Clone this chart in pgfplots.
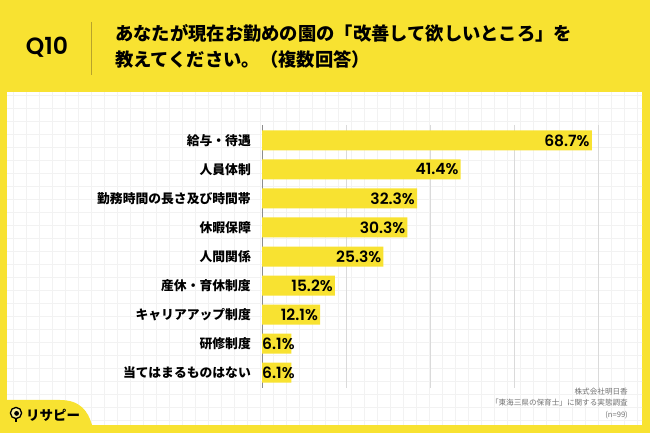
\documentclass[border=0pt]{standalone}
\usepackage{fontspec}
\usepackage{pgfplots}
\pgfplotsset{compat=1.18}
\usepackage{pgfplotstable}
\newfontfamily\jp{Noto Sans CJK JP}
\newfontfamily\pop{Poppins}[UprightFont={* SemiBold}]
\definecolor{yel}{HTML}{F8E231}
\definecolor{olivel}{HTML}{B8A32A}
\definecolor{gridc}{HTML}{DADADA}
\definecolor{paper}{HTML}{F2F2F2}

\pgfplotstableread{
y v
0 68.7
1 41.4
2 32.3
3 30.3
4 25.3
5 15.2
6 12.1
7 6.1
8 6.1
}\datatable

\pgfplotstableread{
y v
0 68.7
1 41.4
2 32.3
3 30.3
4 25.3
5 15.2
6 12.1
}\biglabels

\pgfplotstableread{
x y v
0 7 6.1
0 8 6.1
}\smalllabels

\begin{document}
\begin{tikzpicture}[x=1pt,y=1pt]
% background
\fill[yel] (0pt,0pt) rectangle (650pt,433pt);
\fill[white] (7pt,8pt) rectangle (642pt,341pt);
\begin{scope}
\clip (7pt,8pt) rectangle (642pt,341pt);
\draw[paper, line width=0.5pt, step=13pt] (0pt,0pt) grid (650pt,341pt);
\end{scope}
% logo tab
\fill[yel] (0pt,0pt) -- (0pt,33pt) -- (60pt,33pt) .. controls (80pt,33pt) and (88pt,22pt) .. (92pt,8pt) -- (94pt,0pt) -- cycle;
\fill[yel] (0pt,0pt) rectangle (96pt,8pt);
% header
\node[anchor=center, font=\pop\fontsize{23.5}{23.5}\selectfont] at (47pt,386pt) {Q10};
\draw[olivel, line width=0.9pt] (91pt,411pt) -- (91pt,358pt);
\node[anchor=west, inner sep=0pt, font=\jp\bfseries\fontsize{18.3}{18.3}\selectfont] at (115pt,400pt) {あなたが現在お勤めの園の「改善して欲しいところ」を};
\node[anchor=west, inner sep=0pt, font=\jp\bfseries\fontsize{18.3}{18.3}\selectfont] at (115pt,373pt) {教えてください。（複数回答）};
% footer
\node[anchor=east, inner sep=0pt, text=black!55, font=\jp\fontsize{7.6}{7.6}\selectfont] at (628pt,41pt) {株式会社明日香};
\node[anchor=east, inner sep=0pt, text=black!55, font=\jp\fontsize{7.6}{7.6}\selectfont] at (628pt,30pt) {「東海三県の保育士」に関する実態調査};
\node[anchor=east, inner sep=0pt, text=black!55, font=\jp\fontsize{7.6}{7.6}\selectfont] at (628pt,18pt) {(n=99)};
% logo
\fill[yel!50!white] (16pt,20pt) circle (5.2pt);
\draw[black, line width=1.3pt] (16pt,20pt) circle (5.6pt);
\fill[black] (16.6pt,19.6pt) circle (2.4pt);
\draw[black, line width=1.3pt] (16pt,14.4pt) -- (16pt,10.5pt);
\node[anchor=west, inner sep=0pt, font=\jp\bfseries\fontsize{13.5}{13.5}\selectfont] at (26pt,18pt) {リサピー};

\begin{axis}[
  at={(262pt,45pt)}, anchor=south west,
  scale only axis, width=336pt, height=263pt,
  xmin=0, xmax=70,
  ymin=-0.53, ymax=8.53,
  y dir=reverse,
  axis line style={draw=none},
  xtick={17.5,35,52.5,70},
  xticklabels={},
  xmajorgrids,
  grid style={gridc, line width=0.9pt},
  extra x ticks={0},
  extra x tick labels={},
  extra x tick style={grid style={black!45, line width=1pt}},
  ytick={0,1,2,3,4,5,6,7,8},
  yticklabels={給与・待遇,人員体制,勤務時間の長さ及び時間帯,休暇保障,人間関係,産休・育休制度,キャリアアップ制度,研修制度,当てはまるものはない},
  yticklabel style={font=\jp\bfseries\fontsize{12.8}{12.8}\selectfont, anchor=east, inner sep=0pt, xshift=-11pt},
  major tick length=0pt,
  clip=false,
]
\addplot[xbar, bar width=20pt, fill=yel, draw=none, bar shift=0pt] table[x=v, y=y] {\datatable};
\addplot[draw=none, mark=none, point meta=\thisrow{v},
  nodes near coords={\pgfmathprintnumber[fixed, precision=1, fixed zerofill, assume math mode=true]{\pgfplotspointmeta}\%},
  every node near coord/.style={anchor=east, inner sep=0pt, xshift=-2pt, font=\pop\fontsize{15.5}{15.5}\selectfont}]
  table[x=v, y=y] {\biglabels};
\addplot[draw=none, mark=none, point meta=\thisrow{v},
  nodes near coords={\pgfmathprintnumber[fixed, precision=1, fixed zerofill, assume math mode=true]{\pgfplotspointmeta}\%},
  every node near coord/.style={anchor=west, inner sep=0pt, xshift=0pt, font=\pop\fontsize{15.5}{15.5}\selectfont}]
  table[x=x, y=y] {\smalllabels};
\end{axis}
\end{tikzpicture}
\end{document}
